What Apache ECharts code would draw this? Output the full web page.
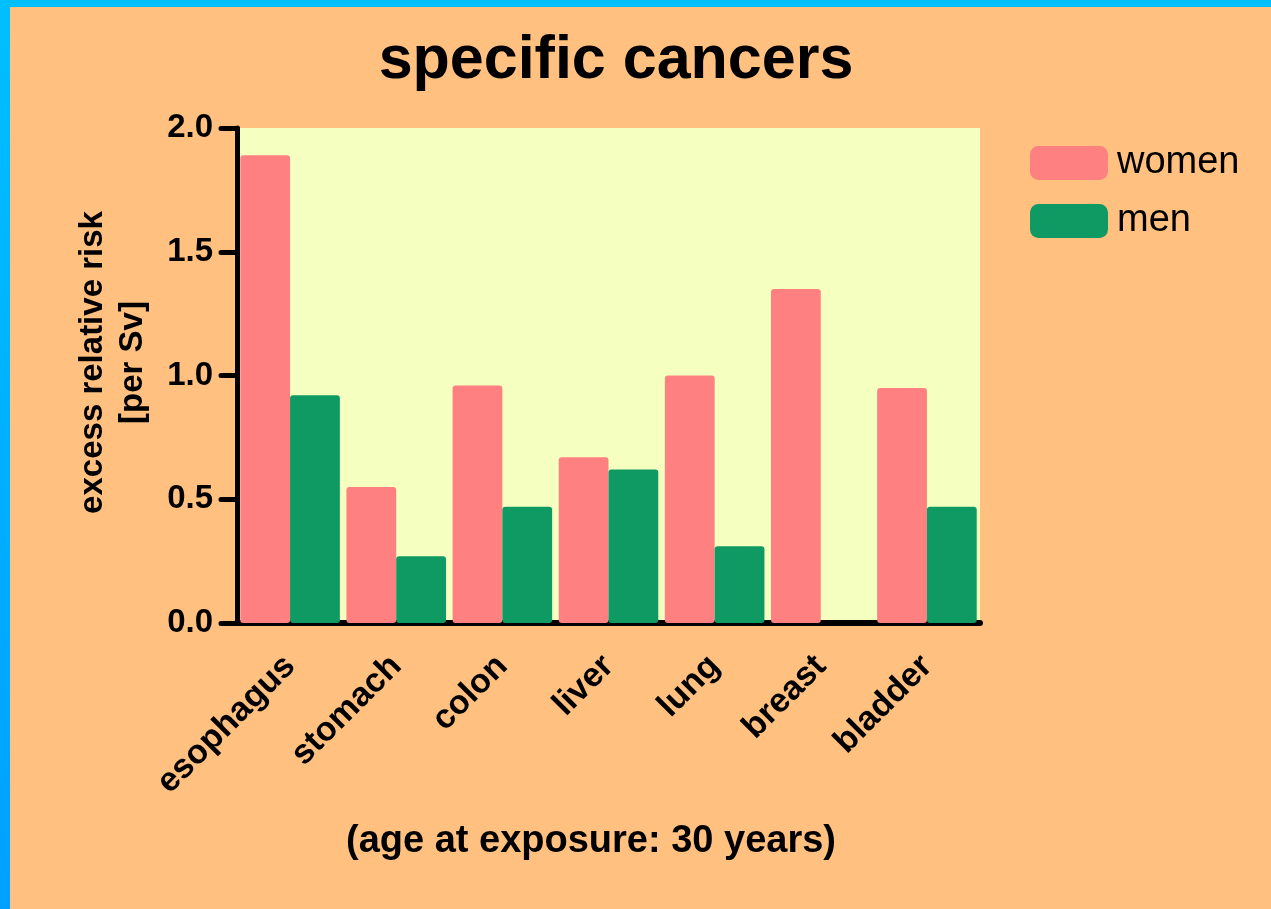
<!DOCTYPE html>
<html>
<head>
<meta charset="utf-8">
<style>
  html, body { margin: 0; padding: 0; background: #FFC080; }
  #chart { position: absolute; left: 0; top: 0; width: 1271px; height: 909px; }
  .edge-top { position: absolute; left: 0; top: 0; width: 1271px; height: 7px; background: #00BFFF; }
  .edge-left { position: absolute; left: 0; top: 0; width: 10px; height: 909px;
               background: linear-gradient(#00BFFF, #00A0FF); }
</style>
<script src="https://cdn.jsdelivr.net/npm/echarts@6/dist/echarts.min.js"></script>
</head>
<body>
<div id="chart"></div>
<div class="edge-top"></div>
<div class="edge-left"></div>
<script>
// Excess relative risk per Sv, by cancer site and sex
const categories = ['esophagus', 'stomach', 'colon', 'liver', 'lung', 'breast', 'bladder'];
const women = [1.89, 0.55, 0.96, 0.67, 1.00, 1.35, 0.95];
const men = [0.92, 0.27, 0.47, 0.62, 0.31, null, 0.47];
const yTicks = { min: 0, max: 2, interval: 0.5 };

const FONT = "'Liberation Sans', Arial, Helvetica, sans-serif";

const chart = echarts.init(document.getElementById('chart'), null, { renderer: 'canvas' });

chart.setOption({
  backgroundColor: '#FFC080',
  animation: false,
  title: [
    {
      text: 'specific cancers',
      left: 611, top: 26, textAlign: 'center',
      textStyle: { fontFamily: FONT, fontSize: 61, fontWeight: 'bold', color: '#000' }
    },
    {
      text: '(age at exposure: 30 years)',
      left: 586, top: 818, textAlign: 'center',
      textStyle: { fontFamily: FONT, fontSize: 38, fontWeight: 'bold', color: '#000' }
    }
  ],
  legend: {
    orient: 'vertical',
    left: 1025, top: 139,
    itemWidth: 78, itemHeight: 34, itemGap: 20,
    icon: 'roundRect',
    textStyle: { fontFamily: FONT, fontSize: 38, color: '#000', padding: [0, 0, 0, 4] },
    data: ['women', 'men']
  },
  grid: {
    left: 237, right: 291, top: 128, bottom: 286,
    show: true, backgroundColor: '#F4FFC0', borderWidth: 0
  },
  xAxis: {
    type: 'category',
    data: categories,
    axisLine: { lineStyle: { color: '#000', width: 6, cap: 'round' } },
    axisTick: { show: false },
    axisLabel: {
      interval: 0, rotate: 45, margin: 38,
      fontFamily: FONT, fontSize: 34, fontWeight: 'bold', color: '#000'
    },
    splitLine: { show: false }
  },
  yAxis: {
    type: 'value',
    min: yTicks.min, max: yTicks.max, interval: yTicks.interval,
    name: 'excess relative risk\n[per Sv]',
    nameLocation: 'middle',
    nameGap: 84,
    nameRotate: 90,
    nameTextStyle: {
      fontFamily: FONT, fontSize: 33, fontWeight: 'bold', color: '#000',
      lineHeight: 40, align: 'center', padding: [0, 0, 0, 26]
    },
    axisLine: { show: true, lineStyle: { color: '#000', width: 5, cap: 'round' } },
    axisTick: { show: true, length: 16, lineStyle: { color: '#000', width: 5, cap: 'round' } },
    axisLabel: {
      margin: 24,
      fontFamily: FONT, fontSize: 33, fontWeight: 'bold', color: '#000',
      formatter: v => v.toFixed(1)
    },
    splitLine: { show: false }
  },
  series: [
    {
      name: 'women', type: 'bar', data: women,
      barGap: '0%', barCategoryGap: '6.2%',
      itemStyle: { color: '#FF8080', borderRadius: 3 }
    },
    {
      name: 'men', type: 'bar', data: men,
      barGap: '0%', barCategoryGap: '6.2%',
      itemStyle: { color: '#0E9A62', borderRadius: 3 }
    }
  ]
});
</script>
</body>
</html>
